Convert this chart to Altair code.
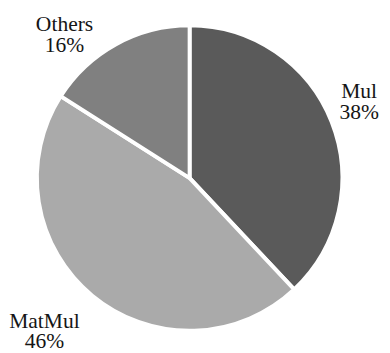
import math
import altair as alt
import pandas as pd

categories = ["Mul", "MatMul", "Others"]
shares = [38, 46, 16]
order = [0, 1, 2]
colors = ["#5a5a5a", "#aaaaaa", "#808080"]

df = pd.DataFrame({"category": categories, "share": shares, "order": order})

theta_scale = alt.Scale(domain=[0, 100], range=[0, 2 * math.pi])

arcs = alt.Chart(df).mark_arc(radius=156, stroke="white", strokeWidth=4).encode(
    theta=alt.Theta("share:Q", stack=True, scale=theta_scale),
    order=alt.Order("order:Q"),
    color=alt.Color("category:N", scale=alt.Scale(domain=categories, range=colors), legend=None),
)

base = alt.Chart(df).transform_window(
    cum="sum(share)", sort=[alt.SortField("order")]
).transform_calculate(
    mid="datum.cum - datum.share / 2",
    label="datum.category + '|' + datum.share + '%'",
)

offsets = {"Mul": (-3.5, -11.4), "MatMul": (-27.2, 6.6), "Others": (-36.2, 16.8)}
layers = [arcs]
for cat in categories:
    dx, dy = offsets[cat]
    layers.append(
        base.transform_filter(alt.datum.category == cat)
        .mark_text(
            radius=190, dx=dx, dy=dy, font="Liberation Serif", fontSize=22,
            lineBreak="|", lineHeight=21, align="center", baseline="alphabetic",
            color="#151515",
        )
        .encode(theta=alt.Theta("mid:Q", scale=theta_scale), text="label:N")
    )

chart = alt.layer(*layers).properties(
    width=371, height=340, autosize="none",
    padding={"left": 0, "top": 0, "right": 11, "bottom": 5},
).configure_view(stroke=None)

chart.save("out.html", embed_options={"renderer": "svg", "actions": False})
